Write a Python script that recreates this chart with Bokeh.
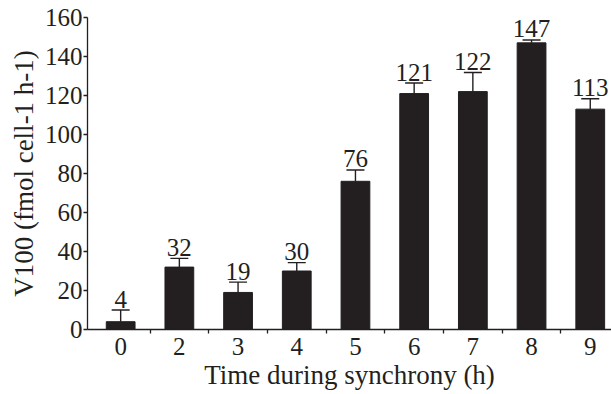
from bokeh.plotting import figure
from bokeh.models import Range1d, FixedTicker, ColumnDataSource, Whisker, TeeHead
from bokeh.core.properties import value
from bokeh.embed import file_html
from bokeh.resources import INLINE

categories = ["0", "2", "3", "4", "5", "6", "7", "8", "9"]
rates = [4, 32, 19, 30, 76, 121, 122, 147, 113]
upper = [10, 36.5, 24.3, 34.3, 81.8, 126.4, 131.8, 148.5, 118.3]
labels = ["4", "32", "19", "30", "76", "121", "122", "147", "113"]
y_ticks = [0, 20, 40, 60, 80, 100, 120, 140, 160]

ink = "#231f20"
serif = "Liberation Serif"

xs = list(range(len(categories)))
src = ColumnDataSource(dict(x=xs, top=rates, upper=upper, label=labels))

p = figure(width=611, height=394, output_backend="svg", toolbar_location=None,
           x_range=Range1d(-0.565, 8.362), y_range=Range1d(0, 160),
           min_border_left=87, min_border_right=0, min_border_top=17,
           min_border_bottom=65)
p.outline_line_color = None
p.xgrid.visible = False
p.ygrid.visible = False

p.vbar(x="x", top="top", bottom=0, width=0.49, source=src,
       fill_color=ink, line_color=ink)

w = Whisker(base="x", lower="top", upper="upper", source=src,
            line_color=ink, line_width=1.4,
            upper_head=TeeHead(size=18, line_color=ink, line_width=1.4),
            lower_head=None)
p.add_layout(w)

p.text(x="x", y="upper", text="label", source=src, text_align="center",
       text_baseline="alphabetic", y_offset=-11, text_color=ink,
       text_font=value(serif), text_font_size="25px")

# x axis
p.xaxis.ticker = FixedTicker(ticks=xs, minor_ticks=[i + 0.5 for i in xs[:-1]])
p.xaxis.major_label_overrides = {i: c for i, c in enumerate(categories)}
p.xaxis.major_tick_out = 0
p.xaxis.major_tick_in = 0
p.xaxis.minor_tick_out = 4
p.xaxis.minor_tick_in = 0
p.xaxis.major_label_standoff = 4
p.xaxis.axis_label = "Time during synchrony (h)"
p.xaxis.axis_label_standoff = 2

# y axis
p.yaxis.ticker = FixedTicker(ticks=y_ticks)
p.yaxis.major_tick_out = 4
p.yaxis.major_tick_in = 0
p.yaxis.minor_tick_out = 0
p.yaxis.minor_tick_in = 0
p.yaxis.major_label_standoff = 1
p.yaxis.axis_label = "V100 (fmol cell-1 h-1)"
p.yaxis.axis_label_standoff = 3

for ax in (p.xaxis, p.yaxis):
    ax.axis_line_color = ink
    ax.axis_line_width = 1.3
    ax.major_tick_line_color = ink
    ax.major_tick_line_width = 1.3
    ax.minor_tick_line_color = ink
    ax.minor_tick_line_width = 1.3
    ax.major_label_text_font = serif
    ax.major_label_text_font_size = "25px"
    ax.major_label_text_color = ink
    ax.axis_label_text_font = serif
    ax.axis_label_text_font_size = "27px"
    ax.axis_label_text_font_style = "normal"
    ax.axis_label_text_color = ink

open("out.html", "w").write(file_html(p, INLINE))
